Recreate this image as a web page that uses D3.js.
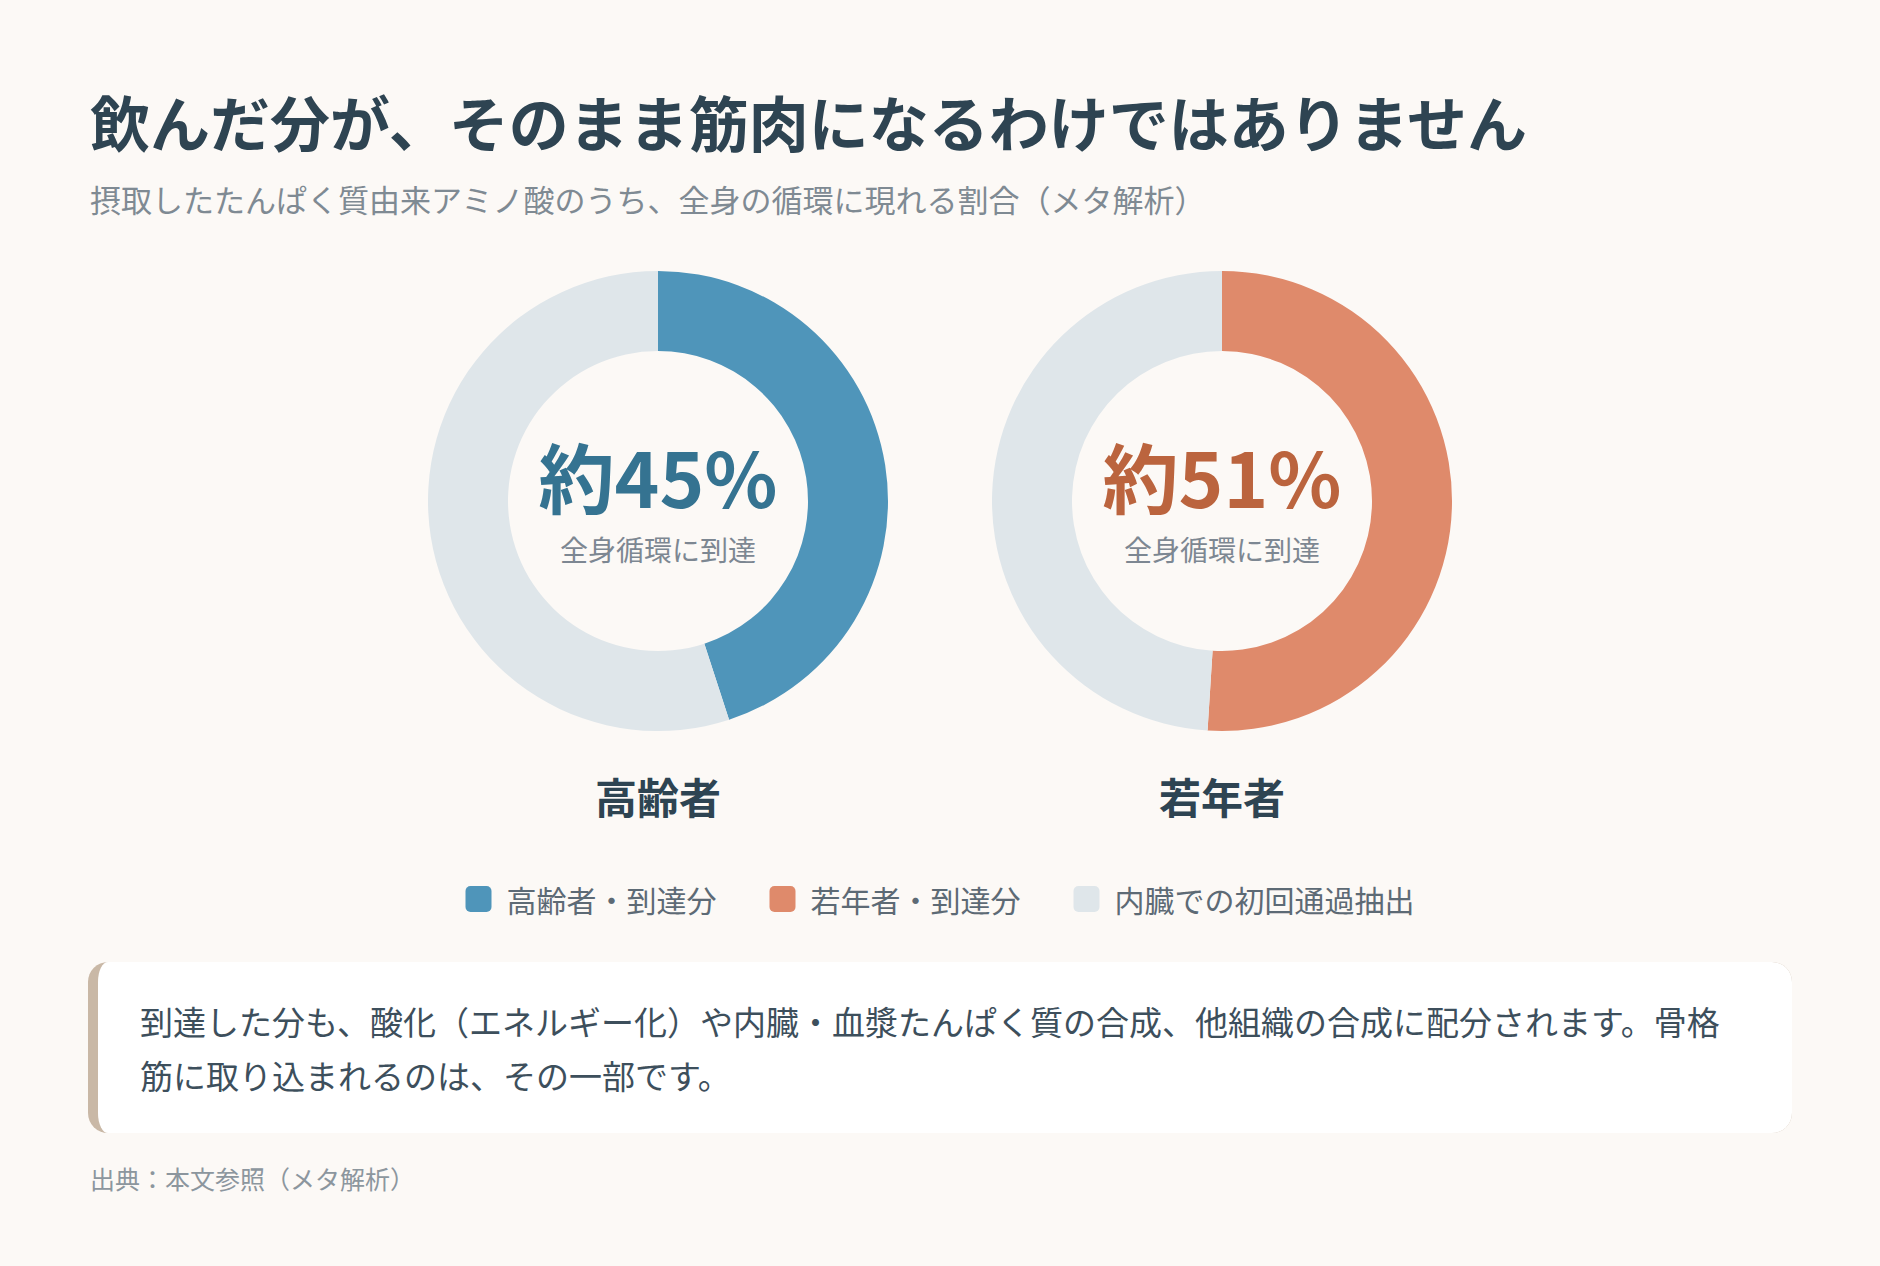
<!DOCTYPE html>
<html lang="ja">
<head>
<meta charset="utf-8">
<title>飲んだ分が、そのまま筋肉になるわけではありません</title>
<script src="https://cdn.jsdelivr.net/npm/d3@7"></script>
<style>
  html, body { margin: 0; padding: 0; background: #fcf9f6; }
  svg { display: block; font-family: "Noto Sans CJK JP", "Noto Sans", sans-serif; }
</style>
</head>
<body>
<div id="chart"></div>
<script>
// data
const titleText = "飲んだ分が、そのまま筋肉になるわけではありません";
const subtitleText = "摂取したたんぱく質由来アミノ酸のうち、全身の循環に現れる割合（メタ解析）";
const groups = ["高齢者", "若年者"];
const reachedPct = [45, 51];
const centerLabel = "全身循環に到達";
const legendLabels = ["高齢者・到達分", "若年者・到達分", "内臓での初回通過抽出"];
const noteLines = [
  "到達した分も、酸化（エネルギー化）や内臓・血漿たんぱく質の合成、他組織の合成に配分されます。骨格",
  "筋に取り込まれるのは、その一部です。"
];
const sourceText = "出典：本文参照（メタ解析）";

const W = 1880, H = 1266;
const colors = {
  reached: ["#4f95ba", "#df8a6b"],
  number: ["#357391", "#bb643e"],
  rest: "#dfe6ea",
  dark: "#2e4452",
  muted: "#7f8a93"
};

const svg = d3.select("#chart").append("svg")
  .attr("width", W)
  .attr("height", H);

svg.append("rect").attr("width", W).attr("height", H).attr("fill", "#fcf9f6");

// header
svg.append("text")
  .attr("x", 90).attr("y", 120)
  .attr("dominant-baseline", "central")
  .attr("font-size", 60).attr("font-weight", 700)
  .attr("fill", colors.dark)
  .text(titleText);

svg.append("text")
  .attr("x", 90).attr("y", 198)
  .attr("dominant-baseline", "central")
  .attr("font-size", 31)
  .attr("fill", colors.muted)
  .text(subtitleText);

// donuts
const x = d3.scalePoint().domain(groups).range([658, 1222]);
const cy = 501;
const pie = d3.pie().sort(null).value((d) => d);
const arc = d3.arc().innerRadius(150).outerRadius(230);

groups.forEach((name, i) => {
  const g = svg.append("g").attr("transform", `translate(${x(name)},${cy})`);
  const slices = pie([reachedPct[i], 100 - reachedPct[i]]);

  g.selectAll("path")
    .data(slices)
    .join("path")
    .attr("d", arc)
    .attr("fill", (d, j) => (j === 0 ? colors.reached[i] : colors.rest));

  g.append("text")
    .attr("y", -26)
    .attr("text-anchor", "middle")
    .attr("dominant-baseline", "central")
    .attr("font-size", 76).attr("font-weight", 700)
    .attr("fill", colors.number[i])
    .text(`約${reachedPct[i]}%`);

  g.append("text")
    .attr("y", 48)
    .attr("text-anchor", "middle")
    .attr("dominant-baseline", "central")
    .attr("font-size", 28)
    .attr("fill", "#7d8792")
    .text(centerLabel);

  svg.append("text")
    .attr("x", x(name)).attr("y", 795)
    .attr("text-anchor", "middle")
    .attr("dominant-baseline", "central")
    .attr("font-size", 42).attr("font-weight", 700)
    .attr("fill", colors.dark)
    .text(name);
});

// legend, centred on the page
const legendColors = [colors.reached[0], colors.reached[1], colors.rest];
const legend = svg.append("g");
const sw = 26, swGap = 15, itemGap = 53, ly = 899;
let lx = 0;
legendLabels.forEach((label, i) => {
  const item = legend.append("g").attr("transform", `translate(${lx},0)`);
  item.append("rect")
    .attr("x", 0).attr("y", ly - sw / 2)
    .attr("width", sw).attr("height", sw)
    .attr("rx", 5)
    .attr("fill", legendColors[i]);
  const t = item.append("text")
    .attr("x", sw + swGap).attr("y", ly)
    .attr("dominant-baseline", "central")
    .attr("font-size", 30)
    .attr("fill", "#5d6a75")
    .text(label);
  lx += sw + swGap + t.node().getComputedTextLength() + itemGap;
});
const legendW = lx - itemGap;
legend.attr("transform", `translate(${(W - legendW) / 2},0)`);

// note box with a rounded left border
const bx = 88, by = 962, bw = 1704, bh = 171, br = 20, bl = 10;
svg.append("rect")
  .attr("x", bx).attr("y", by)
  .attr("width", bw).attr("height", bh)
  .attr("rx", br)
  .attr("fill", "#c9b8a6");

const ix = bx + bl, irx = br - bl;
const inner = d3.path();
inner.moveTo(ix + irx, by);
inner.lineTo(bx + bw - br, by);
inner.arcTo(bx + bw, by, bx + bw, by + br, br);
inner.lineTo(bx + bw, by + bh - br);
inner.arcTo(bx + bw, by + bh, bx + bw - br, by + bh, br);
inner.lineTo(ix + irx, by + bh);
svg.append("path")
  .attr("d", inner.toString() +
    `A${irx},${br} 0 0 1 ${ix},${by + bh - br}` +
    `L${ix},${by + br}` +
    `A${irx},${br} 0 0 1 ${ix + irx},${by}Z`)
  .attr("fill", "#ffffff");

svg.append("g")
  .selectAll("text")
  .data(noteLines)
  .join("text")
  .attr("x", 140)
  .attr("y", (d, i) => 1021 + i * 54)
  .attr("dominant-baseline", "central")
  .attr("font-size", 33)
  .attr("fill", "#3d4f5c")
  .text((d) => d);

svg.append("text")
  .attr("x", 90).attr("y", 1178)
  .attr("dominant-baseline", "central")
  .attr("font-size", 25)
  .attr("fill", "#8c969e")
  .text(sourceText);
</script>
</body>
</html>
